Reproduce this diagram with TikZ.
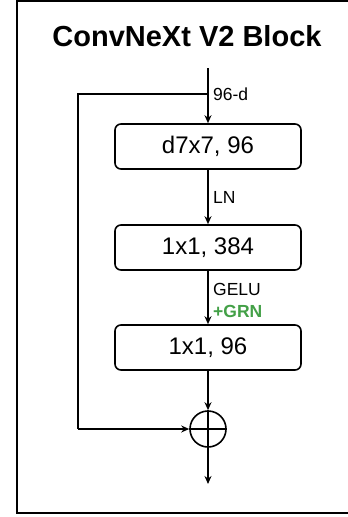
\documentclass[tikz,border=0pt]{standalone}
\usepackage{fontspec}
\setmainfont{Liberation Sans}
\usepackage{xcolor}
\usepackage{tikz}
\usetikzlibrary{arrows.meta}
\definecolor{grngreen}{RGB}{67,160,71}

\begin{document}
\begin{tikzpicture}[x=1pt,y=-1pt,
  blk/.style={draw=black, line width=1.6pt, rounded corners=6pt, minimum width=186pt, minimum height=45pt, inner sep=0pt, font=\fontsize{24}{27}\selectfont},
  lbl/.style={anchor=west, inner sep=0pt, font=\fontsize{17.5}{20}\selectfont},
  flow/.style={line width=1.6pt, -{Stealth[length=8pt,width=7pt]}}]
\def\cx{208};
\def\lx{78};
\def\by{94}; %branch height%
\useasboundingbox (0,0) rectangle (348,517);
\draw[line width=2pt] (17,1) rectangle (352,513); %frame%

\node[font=\bfseries\fontsize{29}{32}\selectfont] (title) at (187,36) {ConvNeXt V2 Block};

\coordinate (in) at (\cx,68);
\coordinate (br) at (\cx,\by);
\coordinate (bl) at (\lx,\by);
\coordinate (out) at (\cx,484);

\node[blk] (dw) at (\cx,146.5) {d7x7, 96};
\node[blk] (pw1) at (\cx,247.5) {1x1, 384};
\node[blk] (pw2) at (\cx,347.5) {1x1, 96};
\node[circle, draw=black, line width=1.6pt, minimum size=36pt, inner sep=0pt] (add) at (\cx,429) {};
\coordinate (al) at (\lx,429);

% labels
\node[lbl] (dim) at (213,94) {96-d};
\node[lbl] (ln) at (213,197) {LN};
\node[lbl] (gelu) at (213,289) {GELU};
\node[lbl, text=grngreen, font=\bfseries\fontsize{17.5}{20}\selectfont] (grn) at (213,311) {+GRN};

% main path
\draw[flow] (in) -- (dw);
\draw[flow] (dw) -- (pw1);
\draw[flow] (pw1) -- (pw2);
\draw[flow] (pw2) -- (add);
\draw[line width=1.6pt] (add.north) -- (add.south);
\draw[line width=1.6pt] (add.west) -- (add.east);
\draw[flow] (add.south) -- (out);
% shortcut
\draw[line width=1.6pt] (br) -- (bl) -- (al);
\draw[flow] (al) -- (add.west);
\end{tikzpicture}
\end{document}
